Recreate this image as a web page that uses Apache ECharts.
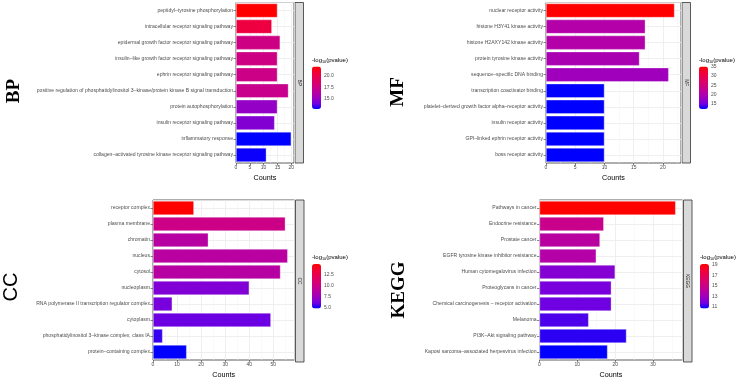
<!DOCTYPE html>
<html>
<head>
<meta charset="utf-8">
<script src="https://cdn.jsdelivr.net/npm/echarts@6/dist/echarts.min.js"></script>
<style>
html, body { margin:0; padding:0; background:#fff; }
#chart { width:740px; height:380px; }
</style>
</head>
<body>
<div id="chart"></div>
<script>
// ---- data (top to bottom as in the figure) ----
var bpTerms = [
  "peptidyl–tyrosine phosphorylation",
  "intracellular receptor signaling pathway",
  "epidermal growth factor receptor signaling pathway",
  "insulin–like growth factor receptor signaling pathway",
  "ephrin receptor signaling pathway",
  "positive regulation of phosphatidylinositol 3–kinase/protein kinase B signal transduction",
  "protein autophosphorylation",
  "insulin receptor signaling pathway",
  "inflammatory response",
  "collagen–activated tyrosine kinase receptor signaling pathway"
];
var bpCounts = [15, 13, 16, 15, 15, 19, 15, 14, 20, 11];
var bpLogP = [21.9, 20.2, 17.6, 17.6, 17.5, 17.3, 15.0, 14.5, 12.9, 13.0];
var bpLegendTicks = [15, 17.5, 20];

var mfTerms = [
  "nuclear receptor activity",
  "histone H3Y41 kinase activity",
  "histone H2AXY142 kinase activity",
  "protein tyrosine kinase activity",
  "sequence–specific DNA binding",
  "transcription coactivator binding",
  "platelet–derived growth factor alpha–receptor activity",
  "insulin receptor activity",
  "GPI–linked ephrin receptor activity",
  "boss receptor activity"
];
var mfCounts = [22, 17, 17, 16, 21, 10, 10, 10, 10, 10];
var mfLogP = [35, 20.5, 20.5, 19.5, 18.5, 12.2, 12.2, 12.2, 12.2, 12.2];
var mfLegendTicks = [15, 20, 25, 30, 35];

var ccTerms = [
  "receptor complex",
  "plasma membrane",
  "chromatin",
  "nucleus",
  "cytosol",
  "nucleoplasm",
  "RNA polymerase II transcription regulator complex",
  "cytoplasm",
  "phosphatidylinositol 3–kinase complex, class IA",
  "protein–containing complex"
];
var ccCounts = [17, 55, 23, 56, 53, 40, 8, 49, 4, 14];
var ccLogP = [14.8, 9.8, 8.6, 8.7, 8.6, 6.4, 6.1, 5.9, 5.3, 4.7];
var ccLegendTicks = [5, 7.5, 10, 12.5];

var keggTerms = [
  "Pathways in cancer",
  "Endocrine resistance",
  "Prostate cancer",
  "EGFR tyrosine kinase inhibitor resistance",
  "Human cytomegalovirus infection",
  "Proteoglycans in cancer",
  "Chemical carcinogenesis – receptor activation",
  "Melanoma",
  "PI3K–Akt signaling pathway",
  "Kaposi sarcoma–associated herpesvirus infection"
];
var keggCounts = [36, 17, 16, 15, 20, 19, 19, 13, 23, 18];
var keggLogP = [19.1, 14.8, 14.0, 13.8, 12.2, 11.9, 11.7, 11.4, 11.1, 10.7];
var keggLegendTicks = [11, 13, 15, 17, 19];

// blue -> red gradient (Lab-like steps, as ggplot does)
var gradStops = ['#0000FF', '#7300E0', '#9A00C2', '#B500A5', '#CA0088', '#DA006C', '#E8004F', '#F40031', '#FF0000'];

// ---- layout ----
var panels = [
  { tag: 'BP', terms: bpTerms, counts: bpCounts, logp: bpLogP, ticks: bpLegendTicks, dec: 1,
    grid: { left: 236, top: 2.5, width: 58, height: 160.5 }, xMax: 21, xStep: 5,
    vm: { min: 12.9, max: 21.9, x: 312, y: 66.5, h: 42.5 },
    big: { x: 14, y: 91, serif: true } },
  { tag: 'MF', terms: mfTerms, counts: mfCounts, logp: mfLogP, ticks: mfLegendTicks, dec: 0,
    grid: { left: 546, top: 2.5, width: 135, height: 160.5 }, xMax: 23.1, xStep: 5,
    vm: { min: 12.2, max: 35, x: 699, y: 66.5, h: 42.5 },
    big: { x: 398, y: 92, serif: true } },
  { tag: 'CC', terms: ccTerms, counts: ccCounts, logp: ccLogP, ticks: ccLegendTicks, dec: 1,
    grid: { left: 153, top: 200, width: 141.5, height: 162 }, xMax: 58.8, xStep: 10,
    vm: { min: 4.7, max: 14.8, x: 312, y: 264, h: 44.5 },
    big: { x: 11, y: 287, serif: false } },
  { tag: 'KEGG', terms: keggTerms, counts: keggCounts, logp: keggLogP, ticks: keggLegendTicks, dec: 0,
    grid: { left: 539.5, top: 200, width: 143, height: 162 }, xMax: 37.8, xStep: 10,
    vm: { min: 10.7, max: 19.1, x: 700, y: 264, h: 44.5 },
    big: { x: 399, y: 290, serif: true } }
];

var FONT = "'Liberation Sans', Arial, sans-serif";
var grids = [], xAxes = [], yAxes = [], series = [], visualMaps = [], graphics = [];
var n = panels.length;

panels.forEach(function (p, i) {
  var g = p.grid;
  grids[i] = { left: g.left, top: g.top, width: g.width, height: g.height,
    show: true, backgroundColor: '#fff', borderColor: '#333', borderWidth: 0.8 };
  grids[n + i] = { left: p.vm.x, top: p.vm.y, width: 9, height: p.vm.h };

  xAxes[i] = {
    gridIndex: i, type: 'value', min: 0, max: p.xMax, interval: p.xStep,
    axisLine: { show: false },
    axisTick: { show: true, length: 2.5, lineStyle: { color: '#333', width: 0.6 } },
    axisLabel: { fontSize: 5, color: '#4D4D4D', margin: 2.5, fontFamily: FONT,
      showMaxLabel: false },
    splitLine: { show: true, lineStyle: { color: '#EBEBEB', width: 0.8 } },
    minorTick: { show: false, splitNumber: 2 },
    minorSplitLine: { show: true, lineStyle: { color: '#F3F3F3', width: 0.5 } },
    name: 'Counts', nameLocation: 'middle', nameGap: 12,
    nameTextStyle: { fontSize: 7.2, color: '#000', fontFamily: FONT }
  };
  xAxes[n + i] = { gridIndex: n + i, type: 'value', show: false };

  yAxes[i] = {
    gridIndex: i, type: 'category', data: p.terms, inverse: true,
    axisLine: { show: false },
    axisTick: { show: true, length: 2.5, alignWithLabel: true, lineStyle: { color: '#333', width: 0.6 } },
    axisLabel: { fontSize: 5.1, color: '#4D4D4D', margin: 3, fontFamily: FONT, interval: 0 },
    splitLine: { show: false }
  };
  // helper axis: horizontal grid lines through category centres
  var halves = [];
  for (var k = 0; k < p.terms.length * 2; k++) halves.push(String(k));
  yAxes[n + i] = {
    gridIndex: i, type: 'category', data: halves,
    axisLine: { show: false }, axisTick: { show: false }, axisLabel: { show: false },
    splitLine: { show: true, interval: function (idx) { return idx % 2 === 1; },
      lineStyle: { color: '#EBEBEB', width: 0.8 } }
  };
  // legend labels
  yAxes[2 * n + i] = {
    gridIndex: n + i, type: 'value', min: p.vm.min, max: p.vm.max, position: 'right',
    axisLine: { show: false }, axisTick: { show: false }, splitLine: { show: false },
    axisLabel: { customValues: p.ticks, fontSize: 5, color: '#4D4D4D', margin: 3, fontFamily: FONT,
      formatter: (function (d) { return function (v) { return v.toFixed(d); }; })(p.dec) }
  };

  series.push({
    type: 'bar', xAxisIndex: i, yAxisIndex: i,
    data: p.terms.map(function (t, k) { return [p.counts[k], t, p.logp[k]]; }),
    encode: { x: 0, y: 1 },
    barWidth: '88%',
    itemStyle: { borderColor: 'rgba(255,255,255,0.55)', borderWidth: 0.6 },
    silent: true, animation: false
  });

  visualMaps.push({
    type: 'continuous', seriesIndex: i, dimension: 2,
    min: p.vm.min, max: p.vm.max, calculable: false, hoverLink: false,
    orient: 'vertical', left: p.vm.x, top: p.vm.y, itemWidth: 9, itemHeight: p.vm.h,
    padding: 0, text: null, inRange: { color: gradStops }
  });

  // facet strip on the right
  var sx = g.left + g.width + 1;
  graphics.push({
    type: 'rect', silent: true,
    shape: { x: sx, y: g.top, width: 8.5, height: g.height },
    style: { fill: '#D9D9D9', stroke: '#333', lineWidth: 0.8 }
  });
  graphics.push({
    type: 'text', silent: true, x: sx + 4.25, y: g.top + g.height / 2, rotation: -Math.PI / 2,
    style: { text: p.tag, fontSize: 4.8, fill: '#1A1A1A', fontFamily: FONT, align: 'center', verticalAlign: 'middle' }
  });
  // legend title
  graphics.push({
    type: 'text', silent: true, x: p.vm.x, y: p.vm.y - 6.5,
    style: {
      text: '-log{s|10}(pvalue)', fontSize: 6, fill: '#000', fontFamily: FONT, verticalAlign: 'middle',
      rich: { s: { fontSize: 3.8, fontFamily: FONT, fill: '#000', padding: [3, 0, 0, 0] } }
    }
  });
  // big panel label
  graphics.push({
    type: 'text', silent: true, x: p.big.x, y: p.big.y, rotation: Math.PI / 2,
    style: {
      text: p.tag, fill: '#000', align: 'center', verticalAlign: 'middle',
      fontSize: p.big.serif ? 19 : 20,
      fontWeight: p.big.serif ? 'bold' : 'normal',
      fontFamily: p.big.serif ? "'Liberation Serif', 'Times New Roman', serif" : FONT
    }
  });
});

var chart = echarts.init(document.getElementById('chart'), null, { renderer: 'canvas' });
chart.setOption({
  backgroundColor: '#fff',
  animation: false,
  grid: grids,
  xAxis: xAxes,
  yAxis: yAxes,
  visualMap: visualMaps,
  series: series,
  graphic: graphics
});
</script>
</body>
</html>
